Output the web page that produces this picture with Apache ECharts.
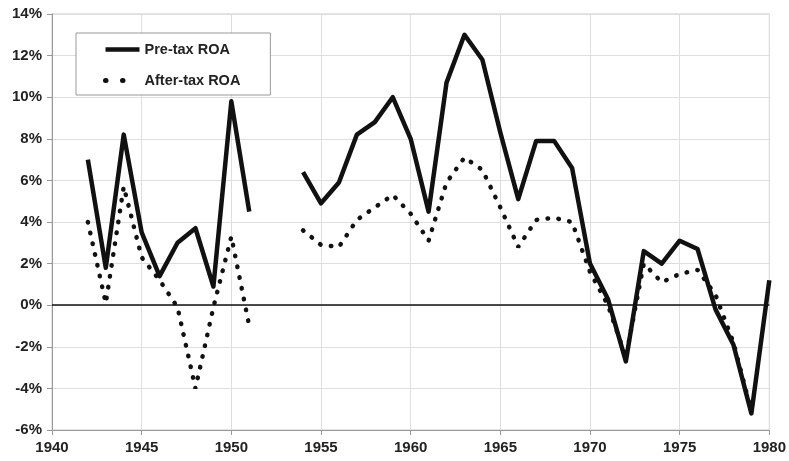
<!DOCTYPE html>
<html>
<head>
<meta charset="utf-8">
<script src="https://cdn.jsdelivr.net/npm/echarts@6/dist/echarts.min.js"></script>
<style>
  html, body { margin: 0; padding: 0; background: #fff; }
  #chart { width: 789px; height: 461px; }
</style>
</head>
<body>
<div id="chart"></div>
<script>
var years = [1942, 1943, 1944, 1945, 1946, 1947, 1948, 1949, 1950, 1951, 1952, 1953,
  1954, 1955, 1956, 1957, 1958, 1959, 1960, 1961, 1962, 1963, 1964, 1965, 1966, 1967,
  1968, 1969, 1970, 1971, 1972, 1973, 1974, 1975, 1976, 1977, 1978, 1979, 1980];

// pre-tax return on assets, %
var preTax = [7.0, 1.8, 8.2, 3.5, 1.4, 3.0, 3.7, 0.9, 9.8, 4.5, null, null,
  6.4, 4.9, 5.9, 8.2, 8.8, 10.0, 8.0, 4.5, 10.7, 13.0, 11.8, 8.3, 5.1, 7.9,
  7.9, 6.6, 2.0, 0.3, -2.7, 2.6, 2.0, 3.1, 2.7, -0.2, -1.9, -5.2, 1.2];

// after-tax return on assets, %
var afterTax = [4.0, 0.1, 5.7, 2.3, 1.2, -0.1, -4.0, -0.1, 3.3, -1.0, null, null,
  3.6, 2.9, 2.8, 4.1, 4.7, 5.3, 4.4, 3.1, 5.9, 7.1, 6.5, 4.7, 2.8, 4.1,
  4.2, 4.0, 1.6, 0.0, -2.5, 2.0, 1.1, 1.5, 1.7, 0.5, -1.8, -5.1, null];

function pairs(vals) {
  return years.map(function (y, i) { return [y, vals[i]]; });
}

var chartDom = document.getElementById('chart');
var myChart = echarts.init(chartDom);

var labelFont = {
  color: '#222',
  fontFamily: 'Liberation Sans, Arial, sans-serif',
  fontWeight: 'bold',
  fontSize: 15
};

var solidLine = { color: '#111', width: 4.5, join: 'round' };
var dottedLine = { color: '#111', width: 4.5, type: [0.5, 10.5], cap: 'round' };

var option = {
  animation: false,
  backgroundColor: '#fff',
  grid: {
    left: 52, right: 19, top: 14, bottom: 31,
    show: true, borderColor: '#c8c8c8', borderWidth: 1
  },
  legend: {
    left: 76, top: 33,
    orient: 'vertical',
    backgroundColor: '#fff',
    borderColor: '#999', borderWidth: 1, borderRadius: 0,
    padding: [9, 30, 7, 27],
    itemWidth: 34, itemHeight: 14, itemGap: 16,
    itemStyle: { opacity: 0 },
    textStyle: { color: '#222', fontFamily: 'Liberation Sans, Arial, sans-serif', fontWeight: 'bold', fontSize: 14.5 },
    data: [
      { name: 'Pre-tax ROA', lineStyle: solidLine },
      { name: 'After-tax ROA', lineStyle: { color: '#111', width: 5, type: [0.5, 16.5], cap: 'round' } }
    ]
  },
  xAxis: {
    type: 'value',
    min: 1940, max: 1980, interval: 5,
    axisLine: { show: true, onZero: false, lineStyle: { color: '#999' } },
    axisTick: { show: true, length: 5, lineStyle: { color: '#999' } },
    axisLabel: Object.assign({
      margin: 10, showMaxLabel: true,
      formatter: function (v) { return String(v); }
    }, labelFont),
    splitLine: { show: true, lineStyle: { color: '#dedede' } }
  },
  yAxis: {
    type: 'value',
    min: -6, max: 14, interval: 2,
    axisLine: { show: true, lineStyle: { color: '#999' } },
    axisTick: { show: true, length: 5, lineStyle: { color: '#999' } },
    axisLabel: Object.assign({ margin: 10, formatter: '{value}%' }, labelFont),
    splitLine: { show: true, lineStyle: { color: '#dedede' } }
  },
  series: [
    {
      name: 'Pre-tax ROA',
      type: 'line',
      symbol: 'none',
      data: pairs(preTax),
      lineStyle: solidLine,
      itemStyle: { color: '#111' },
      markLine: {
        silent: true,
        symbol: 'none',
        label: { show: false },
        lineStyle: { color: '#111', width: 1.5, type: 'solid' },
        data: [{ yAxis: 0 }]
      },
      z: 3
    },
    {
      name: 'After-tax ROA',
      type: 'line',
      symbol: 'none',
      data: pairs(afterTax),
      lineStyle: dottedLine,
      itemStyle: { color: '#111' },
      z: 2
    }
  ]
};

myChart.setOption(option);
</script>
</body>
</html>
